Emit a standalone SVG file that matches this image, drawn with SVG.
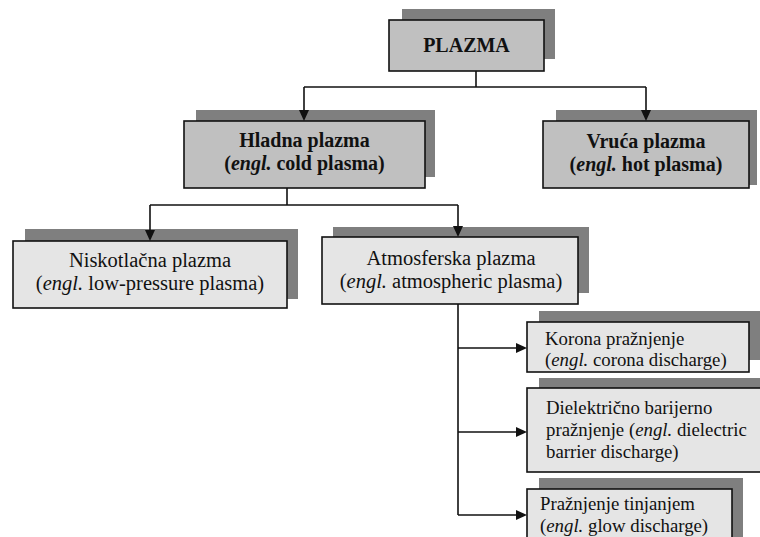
<svg xmlns="http://www.w3.org/2000/svg" width="760" height="537" viewBox="0 0 760 537">
<style>
.sh{fill:#7f7f7f}
.b1{fill:#c0c0c0;stroke:#111;stroke-width:1.6}
.b2{fill:#e5e5e5;stroke:#111;stroke-width:1.6}
.c{stroke:#111;stroke-width:1.6;fill:none}
.ah{fill:#111}
</style>
<rect width="760" height="537" fill="#fff"/>

<g id="plazma">
<rect class="sh" x="402" y="9" width="153" height="50"/>
<rect class="b1" x="389" y="20" width="155" height="51"/>
<text x="466.5" y="52" font-family="Liberation Serif, Times New Roman, DejaVu Serif, serif" font-weight="bold" font-size="20" fill="#111" text-anchor="middle">PLAZMA</text>
</g>

<g id="hladna">
<rect class="sh" x="196" y="110" width="239" height="67"/>
<rect class="b1" x="184" y="121" width="241" height="67"/>
<text font-family="Liberation Serif, Times New Roman, DejaVu Serif, serif" font-weight="bold" font-size="20" fill="#111" text-anchor="middle"><tspan x="304.5" y="147">Hladna plazma</tspan><tspan x="304.5" y="170">(<tspan font-style="italic">engl.</tspan> cold plasma)</tspan></text>
</g>

<g id="vruca">
<rect class="sh" x="556" y="110" width="201" height="75"/>
<rect class="b1" x="543" y="121" width="206" height="67"/>
<text font-family="Liberation Serif, Times New Roman, DejaVu Serif, serif" font-weight="bold" font-size="20" fill="#111" text-anchor="middle"><tspan x="646" y="148">Vruća plazma</tspan><tspan x="646" y="171">(<tspan font-style="italic">engl.</tspan> hot plasma)</tspan></text>
</g>

<g id="niskotlacna">
<rect class="sh" x="25" y="229" width="273" height="70"/>
<rect class="b2" x="13" y="241" width="274" height="67"/>
<text font-family="Liberation Serif, Times New Roman, DejaVu Serif, serif" font-size="20.5" fill="#111" text-anchor="middle"><tspan x="150" y="267">Niskotlačna plazma</tspan><tspan x="150" y="290">(<tspan font-style="italic">engl.</tspan> low-pressure plasma)</tspan></text>
</g>

<g id="atmosferska">
<rect class="sh" x="333" y="227" width="256" height="66"/>
<rect class="b2" x="322" y="237" width="256" height="67"/>
<text font-family="Liberation Serif, Times New Roman, DejaVu Serif, serif" font-size="20.5" fill="#111" text-anchor="middle"><tspan x="451" y="265">Atmosferska plazma</tspan><tspan x="451" y="288">(<tspan font-style="italic">engl.</tspan> atmospheric plasma)</tspan></text>
</g>

<g id="korona">
<rect class="sh" x="539" y="311" width="225" height="49"/>
<rect class="b2" x="527" y="322" width="222" height="50"/>
<text font-family="Liberation Serif, Times New Roman, DejaVu Serif, serif" font-size="18.8" fill="#111"><tspan x="545" y="345">Korona pražnjenje</tspan><tspan x="545" y="366">(<tspan font-style="italic">engl.</tspan> corona discharge)</tspan></text>
</g>

<g id="dielektricno">
<rect class="sh" x="539" y="378" width="225" height="84"/>
<rect class="b2" x="527" y="388" width="240" height="84"/>
<text font-family="Liberation Serif, Times New Roman, DejaVu Serif, serif" font-size="18.8" fill="#111"><tspan x="546" y="414">Dielektrično barijerno</tspan><tspan x="546" y="436">pražnjenje (<tspan font-style="italic">engl.</tspan> dielectric</tspan><tspan x="546" y="458">barrier discharge)</tspan></text>
</g>

<g id="tinjanje">
<rect class="sh" x="539" y="478" width="204" height="70"/>
<rect class="b2" x="527" y="489" width="205" height="60"/>
<text font-family="Liberation Serif, Times New Roman, DejaVu Serif, serif" font-size="18.8" fill="#111"><tspan x="540" y="510">Pražnjenje tinjanjem</tspan><tspan x="540" y="532">(<tspan font-style="italic">engl.</tspan> glow discharge)</tspan></text>
</g>

<g id="connectors">
<path class="c" d="M476,71 V87"/>
<path class="c" d="M304,87 H646"/>
<path class="c" d="M304,87 V112"/>
<path class="c" d="M646,87 V112"/>
<path class="c" d="M287,188 V205"/>
<path class="c" d="M150,205 H458"/>
<path class="c" d="M150,205 V232"/>
<path class="c" d="M458,205 V228"/>
<path class="c" d="M458,304 V515"/>
<path class="c" d="M458,348 H517"/>
<path class="c" d="M458,432 H517"/>
<path class="c" d="M458,515 H517"/>
<polygon class="ah" points="299,110 309,110 304,121"/>
<polygon class="ah" points="641,110 651,110 646,121"/>
<polygon class="ah" points="145,230 155,230 150,241"/>
<polygon class="ah" points="453,226 463,226 458,237"/>
<polygon class="ah" points="516,343 516,353 527,348"/>
<polygon class="ah" points="516,427 516,437 527,432"/>
<polygon class="ah" points="516,510 516,520 527,515"/>
</g>
</svg>
